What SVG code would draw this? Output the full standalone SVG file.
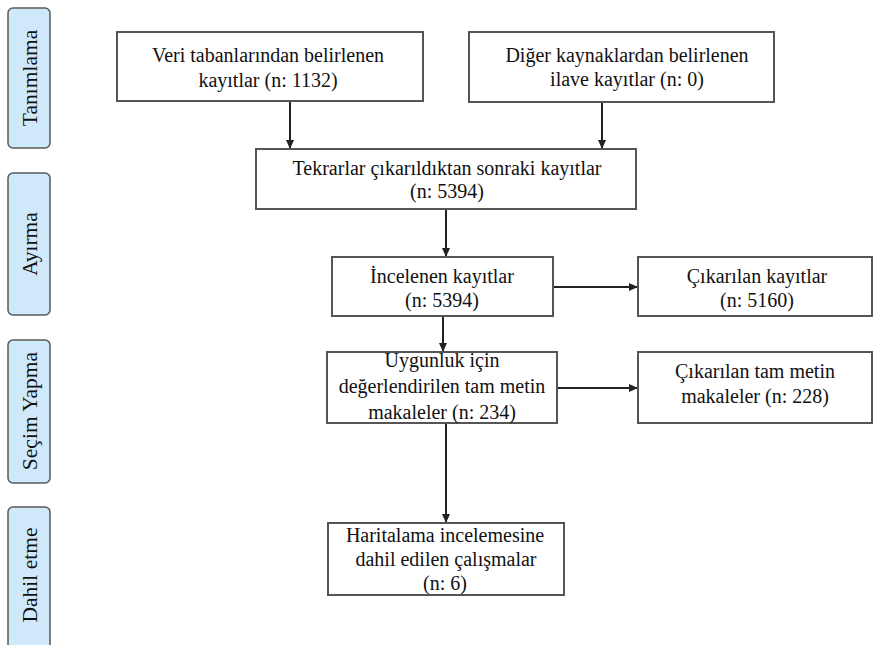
<svg xmlns="http://www.w3.org/2000/svg" width="874" height="645" viewBox="0 0 874 645">
<style>
.box{fill:#fff;stroke:#555;stroke-width:2}
.side{fill:#cfe8fa;stroke:#5a5a5a;stroke-width:1.5}
text{font-family:"Liberation Serif","Times New Roman",serif;font-size:20px;fill:#111;text-anchor:middle}
.st{font-size:21.5px}
.conn{stroke:#222;stroke-width:2;fill:none;marker-end:url(#ah)}
</style>
<defs>
<marker id="ah" markerUnits="userSpaceOnUse" markerWidth="10" markerHeight="10" refX="9" refY="5" orient="auto">
<path d="M0,1 L9,5 L0,9 Z" fill="#222"/>
</marker>
</defs>
<rect width="874" height="645" fill="#fff"/>
<g id="side-tanimlama"><rect class="side" x="8" y="8" width="42" height="140" rx="5"/><text class="st" transform="translate(36.5,78) rotate(-90)">Tanımlama</text></g>
<g id="side-ayirma"><rect class="side" x="8" y="173" width="42" height="142" rx="5"/><text class="st" transform="translate(36.5,244) rotate(-90)">Ayırma</text></g>
<g id="side-secim"><rect class="side" x="8" y="340" width="42" height="143" rx="5"/><text class="st" transform="translate(36.5,411) rotate(-90)">Seçim Yapma</text></g>
<g id="side-dahil"><rect class="side" x="8" y="507" width="42" height="150" rx="5"/><text class="st" transform="translate(36.5,575) rotate(-90)">Dahil etme</text></g>

<g id="connectors">
<line class="conn" x1="290" y1="101" x2="290" y2="149"/>
<line class="conn" x1="602" y1="102" x2="602" y2="149"/>
<line class="conn" x1="446" y1="209" x2="446" y2="257"/>
<line class="conn" x1="443" y1="316" x2="443" y2="352"/>
<line class="conn" x1="446" y1="423" x2="446" y2="523"/>
<line class="conn" x1="553" y1="287" x2="638" y2="287"/>
<line class="conn" x1="557" y1="388" x2="638" y2="388"/>
</g>

<g id="n1"><rect class="box" x="117" y="32" width="306" height="69"/><text x="268" y="62">Veri tabanlarından belirlenen</text><text x="268" y="87">kayıtlar (n: 1132)</text></g>
<g id="n2"><rect class="box" x="469" y="32" width="305" height="70"/><text x="627" y="62">Diğer kaynaklardan belirlenen</text><text x="627" y="86">ilave kayıtlar (n: 0)</text></g>
<g id="n3"><rect class="box" x="256" y="149" width="380" height="60"/><text x="447" y="175">Tekrarlar çıkarıldıktan sonraki kayıtlar</text><text x="447" y="198">(n: 5394)</text></g>
<g id="n4"><rect class="box" x="332" y="257" width="221" height="59"/><text x="442" y="283">İncelenen kayıtlar</text><text x="442" y="307">(n: 5394)</text></g>
<g id="n5"><rect class="box" x="638" y="257" width="234" height="59"/><text x="757" y="283">Çıkarılan kayıtlar</text><text x="757" y="307">(n: 5160)</text></g>
<g id="n6"><rect class="box" x="327" y="352" width="230" height="71"/><text x="442" y="367">Uygunluk için</text><text x="442" y="393">değerlendirilen tam metin</text><text x="442" y="419">makaleler (n: 234)</text></g>
<g id="n7"><rect class="box" x="638" y="352" width="234" height="71"/><text x="755" y="378">Çıkarılan tam metin</text><text x="755" y="403">makaleler (n: 228)</text></g>
<g id="n8"><rect class="box" x="328" y="523" width="236" height="72"/><text x="445" y="542">Haritalama incelemesine</text><text x="446" y="566">dahil edilen çalışmalar</text><text x="445" y="590">(n: 6)</text></g>
</svg>
